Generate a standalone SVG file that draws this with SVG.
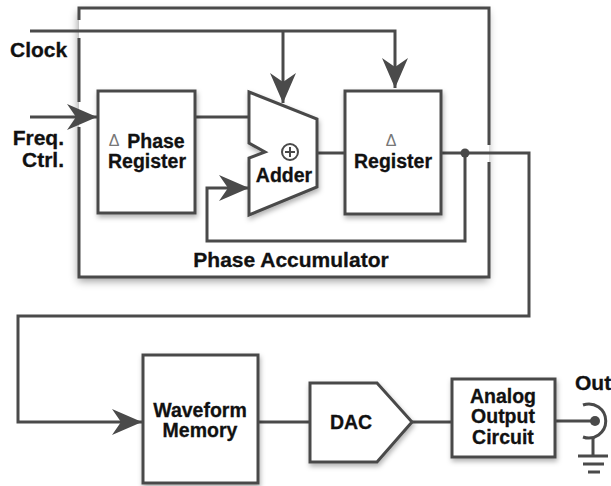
<svg xmlns="http://www.w3.org/2000/svg" width="611" height="486" viewBox="0 0 611 486">
<defs>
<style>
.ln{fill:none;stroke:#4a4a4a;stroke-width:3;stroke-linejoin:miter}
.bx{fill:#fff;stroke:#4a4a4a;stroke-width:3}
.t{font-family:"Liberation Sans",Arial,sans-serif;font-weight:bold;fill:#111;stroke:#111;stroke-width:0.3;font-size:19.5px;text-anchor:middle}
.lb{font-family:"Liberation Sans",Arial,sans-serif;font-weight:bold;fill:#111;stroke:#111;stroke-width:0.3;font-size:21px}
.d{font-family:"Liberation Sans",Arial,sans-serif;fill:#777;font-size:16px;text-anchor:middle}
</style>
<filter id="sh" x="-10%" y="-10%" width="125%" height="125%">
<feDropShadow dx="-1" dy="4" stdDeviation="4" flood-color="#000" flood-opacity="0.4"/>
</filter>
<filter id="sh2" x="-10%" y="-10%" width="130%" height="130%">
<feDropShadow dx="1" dy="3" stdDeviation="2.5" flood-color="#000" flood-opacity="0.3"/>
</filter>
<marker id="arL" viewBox="0 0 30 26" refX="30" refY="13" markerWidth="30" markerHeight="26" markerUnits="userSpaceOnUse" orient="auto">
<path d="M0,0 L30,13 L0,26 L9,13 Z" fill="#4a4a4a"/>
</marker>
</defs>
<rect width="611" height="486" fill="#fff"/>

<g id="phase-accumulator">
<rect x="79" y="8" width="410" height="269" fill="#fff" stroke="none" filter="url(#sh)"/>
<path class="ln" d="M79,20 V8 H489 V145 M489,162 V277 H79 V127 M79,102 V38"/>
<text class="lb" x="291" y="267" text-anchor="middle">Phase Accumulator</text>
</g>

<g id="connectors">
<path class="ln" d="M30,31 H395 V88" marker-end="url(#arL)"/>
<path class="ln" d="M283,31 V103" marker-end="url(#arL)"/>
<path class="ln" d="M30,117 H97" marker-end="url(#arL)"/>
<path class="ln" d="M195,117 H249"/>
<path class="ln" d="M317,153 H345"/>
<path class="ln" d="M441,153 H529 V316 H18 V422 H142" marker-end="url(#arL)"/>
<path class="ln" d="M465,153 V241 H207 V188 H249" marker-end="url(#arL)"/>
<circle cx="465" cy="153" r="4.5" fill="#4a4a4a"/>
<path class="ln" d="M258,422 H310"/>
<path class="ln" d="M412,422 H452"/>
<path class="ln" d="M555,421 H595"/>
</g>

<g id="clock-label"><text class="lb" x="10" y="57">Clock</text></g>
<g id="freq-label">
<text class="lb" x="64" y="145" text-anchor="end">Freq.</text>
<text class="lb" x="64" y="167" text-anchor="end">Ctrl.</text>
</g>

<g id="phase-register">
<rect class="bx" x="98" y="91" width="97" height="122" filter="url(#sh2)"/>
<text class="d" x="114" y="146">Δ</text>
<text class="t" x="156" y="148">Phase</text>
<text class="t" x="147" y="168">Register</text>
</g>

<g id="adder">
<path class="bx" d="M249,92 L317,119 V187 L249,215 V158 L265,152 L249,143 Z" filter="url(#sh2)"/>
<circle cx="290" cy="152" r="8" fill="none" stroke="#4a4a4a" stroke-width="2"/>
<path d="M285,152 H295 M290,147 V157" stroke="#4a4a4a" stroke-width="2"/>
<text class="t" x="284" y="182">Adder</text>
</g>

<g id="register">
<rect class="bx" x="345" y="91" width="96" height="123" filter="url(#sh2)"/>
<text class="d" x="391" y="146">Δ</text>
<text class="t" x="393" y="168">Register</text>
</g>

<g id="waveform-memory">
<rect class="bx" x="143" y="355" width="115" height="128" filter="url(#sh2)"/>
<text class="t" x="200" y="417">Waveform</text>
<text class="t" x="200" y="437">Memory</text>
</g>

<g id="dac">
<path class="bx" d="M310,383 H377 L412,422 L377,462 H310 Z" filter="url(#sh2)"/>
<text class="t" x="351" y="429">DAC</text>
</g>

<g id="analog-output">
<rect class="bx" x="452" y="379" width="103" height="78" filter="url(#sh2)"/>
<text class="t" x="503" y="403">Analog</text>
<text class="t" x="503" y="423">Output</text>
<text class="t" x="503" y="444">Circuit</text>
</g>

<g id="output-connector">
<text class="lb" x="575" y="390">Out</text>
<circle cx="595" cy="421" r="5" fill="#4a4a4a"/>
<path class="ln" d="M583,405 A17,17 0 1 1 583,437"/>
<path class="ln" d="M593,437 V455 M578,456 H608 M583,464 H604 M588,472 H600"/>
</g>
</svg>
